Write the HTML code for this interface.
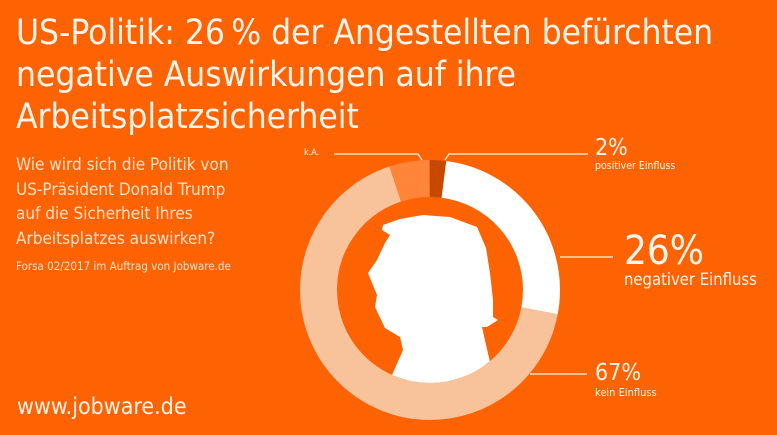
<!DOCTYPE html>
<html><head><meta charset="utf-8"><style>
html,body{margin:0;padding:0;}
body{width:777px;height:435px;background:#fe6303;overflow:hidden;position:relative;font-family:"DejaVu Sans Condensed","Liberation Sans Narrow","Liberation Sans",sans-serif;color:#fff4ea;}
.t{position:absolute;white-space:nowrap;}
</style></head><body>
<svg width="777" height="435" style="position:absolute;left:0;top:0">
<defs><clipPath id="ic"><circle cx="430" cy="290" r="93"/></clipPath></defs>
<g transform="rotate(-90 430 290)" fill="none" stroke-width="37">
<circle cx="430" cy="290" r="111.5" pathLength="100" stroke="#c84800" stroke-dasharray="2 98" stroke-dashoffset="0"/>
<circle cx="430" cy="290" r="111.5" pathLength="100" stroke="#ffffff" stroke-dasharray="26 74" stroke-dashoffset="-2"/>
<circle cx="430" cy="290" r="111.5" pathLength="100" stroke="#f8c29a" stroke-dasharray="67 33" stroke-dashoffset="-28"/>
<circle cx="430" cy="290" r="111.5" pathLength="100" stroke="#ff8638" stroke-dasharray="5 95" stroke-dashoffset="-95"/>
</g>
<path clip-path="url(#ic)" fill="#fff" d="M383,225 L400,219 L423,215 L450,217 L477,227 L486,248 L490,273 L493,300 L493,317 L498,320 L487,327 L482,327 L486,345 L490,362 L492,400 L390,400 L392,375 L403,350 L400,337 L385,328 L375,307 L377,295 L372,283 L368,273 L377,260 L385,243 L390,235 L382,230 Z"/>
<g stroke="#fff4ea" stroke-width="1.3" fill="none">
<polyline points="334,154 418,154 422,160"/>
<polyline points="445,160 449,154 588,154"/>
<line x1="560" y1="257" x2="613" y2="257"/>
<line x1="530" y1="374" x2="587" y2="374"/>
</g>
</svg>
<div class="t" style="left:16px;top:12px;font-size:35px;line-height:42px">US-Politik: 26&#8201;% der Angestellten befürchten<br>negative Auswirkungen auf ihre<br>Arbeitsplatzsicherheit</div>
<div class="t" style="left:16px;top:153px;font-size:17px;line-height:24.5px;color:#fde0c8">Wie wird sich die Politik von<br>US-Präsident Donald Trump<br>auf die Sicherheit Ihres<br>Arbeitsplatzes auswirken?</div>
<div class="t" style="left:16px;top:259px;font-size:11.5px;color:#fde0c8">Forsa 02/2017 im Auftrag von Jobware.de</div>
<div class="t" style="left:304px;top:148px;font-size:9px">k.A.</div>
<div class="t" style="left:595px;top:135px;font-size:23px">2%</div>
<div class="t" style="left:595px;top:160px;font-size:10.5px">positiver Einfluss</div>
<div class="t" style="left:624px;top:228px;font-size:40px">26%</div>
<div class="t" style="left:624px;top:270px;font-size:16.5px">negativer Einfluss</div>
<div class="t" style="left:595px;top:360px;font-size:23px">67%</div>
<div class="t" style="left:595px;top:386px;font-size:11px">kein Einfluss</div>
<div class="t" style="left:17px;top:394px;font-size:23px">www.jobware.de</div>
</body></html>
